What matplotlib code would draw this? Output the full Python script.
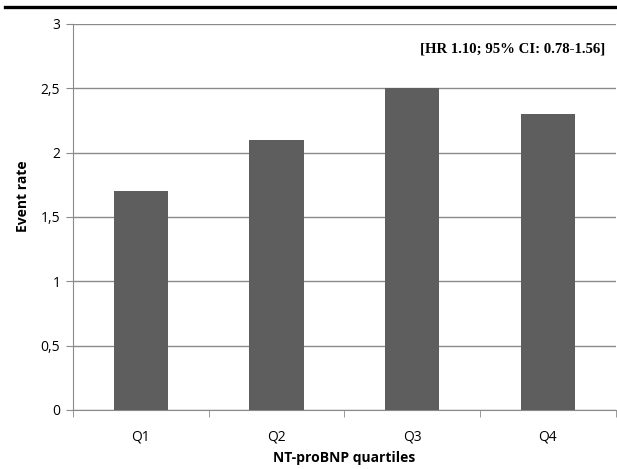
import numpy as np
import matplotlib.pyplot as plt
from matplotlib.lines import Line2D
from matplotlib.ticker import FixedLocator, FuncFormatter

categories = ["Q1", "Q2", "Q3", "Q4"]
event_rate = [1.7, 2.1, 2.5, 2.3]
yticks = [0, 0.5, 1, 1.5, 2, 2.5, 3]
annotation = "[HR 1.10; 95% CI: 0.78-1.56]"

plt.rcParams["font.family"] = ["Open Sans", "DejaVu Sans"]

fig = plt.figure(figsize=(6.17, 4.69), dpi=100)
ax = fig.add_axes([0.118, 0.126, 0.880, 0.823])

x = np.arange(len(categories))
ax.bar(x, event_rate, width=0.4, color="#5e5e5e", zorder=3)

ax.set_xlim(-0.5, len(categories) - 0.5)
ax.set_ylim(0, 3)
ax.set_yticks(yticks)
ax.yaxis.set_major_formatter(FuncFormatter(lambda v, p: f"{v:g}".replace(".", ",")))
ax.grid(axis="y", color="#8a8a8a", lw=1.0, zorder=0)

ax.set_xticks(x)
ax.set_xticklabels(categories)
ax.xaxis.set_minor_locator(FixedLocator(np.arange(-0.5, len(categories), 1.0)))
ax.tick_params(axis="x", which="major", length=0, pad=14, labelsize=10)
ax.tick_params(axis="x", which="minor", length=5, color="#8a8a8a")
ax.tick_params(axis="y", length=5, color="#8a8a8a", labelsize=10, pad=4)

for s in ["top", "right"]:
    ax.spines[s].set_visible(False)
ax.spines["left"].set_color("#8a8a8a")
ax.spines["bottom"].set_color("#8a8a8a")

ax.set_xlabel("NT-proBNP quartiles", fontsize=10, fontweight="bold", labelpad=5)
ax.set_ylabel("Event rate", fontsize=10, fontweight="bold")
ax.yaxis.set_label_coords(-0.078, 0.554)

ax.text(0.98, 0.935, annotation, transform=ax.transAxes, ha="right", va="center",
        fontsize=10.6, fontweight="bold", family=["Liberation Serif", "DejaVu Serif"])

fig.add_artist(Line2D([0.008, 1.0], [0.985, 0.985], color="black", lw=2.4,
                      transform=fig.transFigure))

fig.savefig("out.png", dpi=100)
